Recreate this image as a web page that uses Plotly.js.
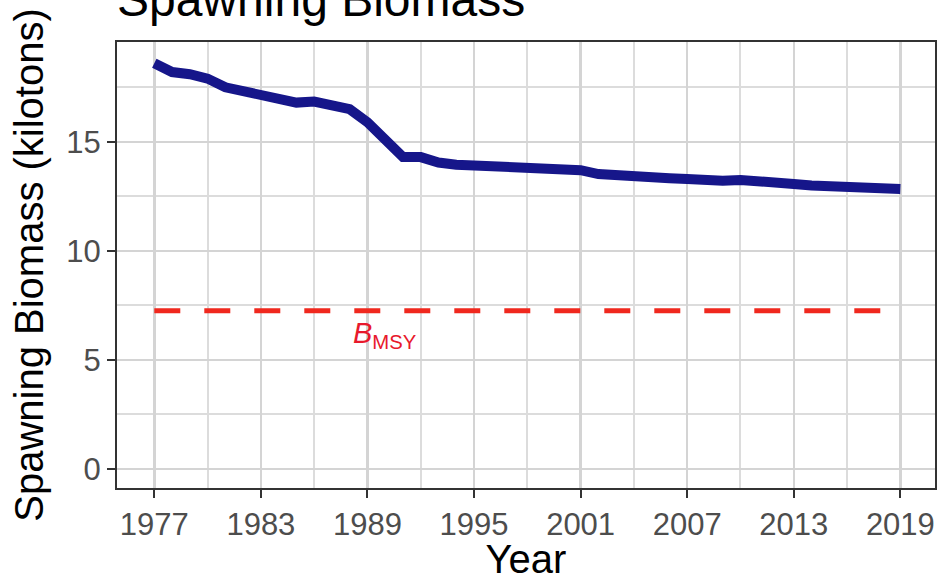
<!DOCTYPE html>
<html>
<head>
<meta charset="utf-8">
<script src="https://cdn.plot.ly/plotly-3.0.1.min.js"></script>
<style>html,body{margin:0;padding:0;background:#fff;}#chart{width:938px;height:581px;}</style>
</head>
<body>
<div id="chart"></div>
<script>
var years = [1977,1978,1979,1980,1981,1982,1983,1984,1985,1986,1987,1988,1989,1990,1991,1992,1993,1994,1995,1996,1997,1998,1999,2000,2001,2002,2003,2004,2005,2006,2007,2008,2009,2010,2011,2012,2013,2014,2015,2016,2017,2018,2019];
var biomass = [18.6,18.2,18.1,17.9,17.5,17.3,17.1,16.95,16.8,16.85,16.7,16.5,15.9,15.1,14.3,14.3,14.05,13.95,13.9,13.85,13.8,13.75,13.7,13.72,13.7,13.52,13.45,13.4,13.35,13.33,13.3,13.23,13.22,13.25,13.22,13.15,13.07,13.0,12.95,12.92,12.88,12.88,12.84];
var bmsy = 7.25;
var bmsyYears = [1977, 2019];
var xTicks = [1977,1983,1989,1995,2001,2007,2013,2019];
var yTicks = [0,5,10,15];

var font = "Liberation Sans, Arial, sans-serif";

var traces = [
  {x: bmsyYears, y: bmsyYears.map(function(){return bmsy;}), type:'scatter', mode:'lines',
   line:{color:'#f0281e', width:5, dash:'26px,24px'}, hoverinfo:'skip'},
  {x: years, y: biomass, type:'scatter', mode:'lines',
   line:{color:'#16168a', width:10}}
];

var layout = {
  width:938, height:581,
  margin:{l:117, r:3, t:42, b:93},
  paper_bgcolor:'#ffffff', plot_bgcolor:'#ffffff',
  showlegend:false,
  font:{family:font, color:'#000'},
  title:{text:'Spawning Biomass', font:{family:font, size:48, color:'#000'},
         x:117/938, xanchor:'left', xref:'container', y:1-16/581, yanchor:'bottom', yref:'container'},
  xaxis:{
    range:[1974.9, 2020.95], tickvals:xTicks, ticktext:xTicks.map(String),
    showgrid:true, gridcolor:'#d4d4d4', gridwidth:2.5,
    minor:{dtick:3, tick0:1977, showgrid:true, gridcolor:'#dcdcdc', gridwidth:2, ticks:''},
    zeroline:false, showline:true, mirror:true, linecolor:'#333333', linewidth:2,
    ticks:'outside', ticklen:8, tickwidth:2, tickcolor:'#333333',
    tickfont:{family:font, size:31, color:'#4d4d4d'},
    title:{text:'Year', font:{family:font, size:40, color:'#000'}, standoff:10}
  },
  yaxis:{
    range:[-0.88, 19.58], tickvals:yTicks, ticktext:yTicks.map(String),
    showgrid:true, gridcolor:'#d4d4d4', gridwidth:2.5,
    minor:{dtick:2.5, tick0:0, showgrid:true, gridcolor:'#dcdcdc', gridwidth:2, ticks:''},
    zeroline:false, showline:true, mirror:true, linecolor:'#333333', linewidth:2,
    ticks:'outside', ticklen:8, tickwidth:2, tickcolor:'#333333',
    tickfont:{family:font, size:31, color:'#4d4d4d'},
    title:{text:'Spawning Biomass (kilotons)', font:{family:font, size:40, color:'#000'}, standoff:10}
  },
  annotations:[
    {x:1990, y:6.15, xref:'x', yref:'y', text:'<i>B</i><sub>MSY</sub>', showarrow:false,
     font:{family:font, size:29, color:'#e8192c'}, xanchor:'center', yanchor:'middle'}
  ]
};

Plotly.newPlot('chart', traces, layout, {displayModeBar:false, staticPlot:true});
</script>
</body>
</html>
